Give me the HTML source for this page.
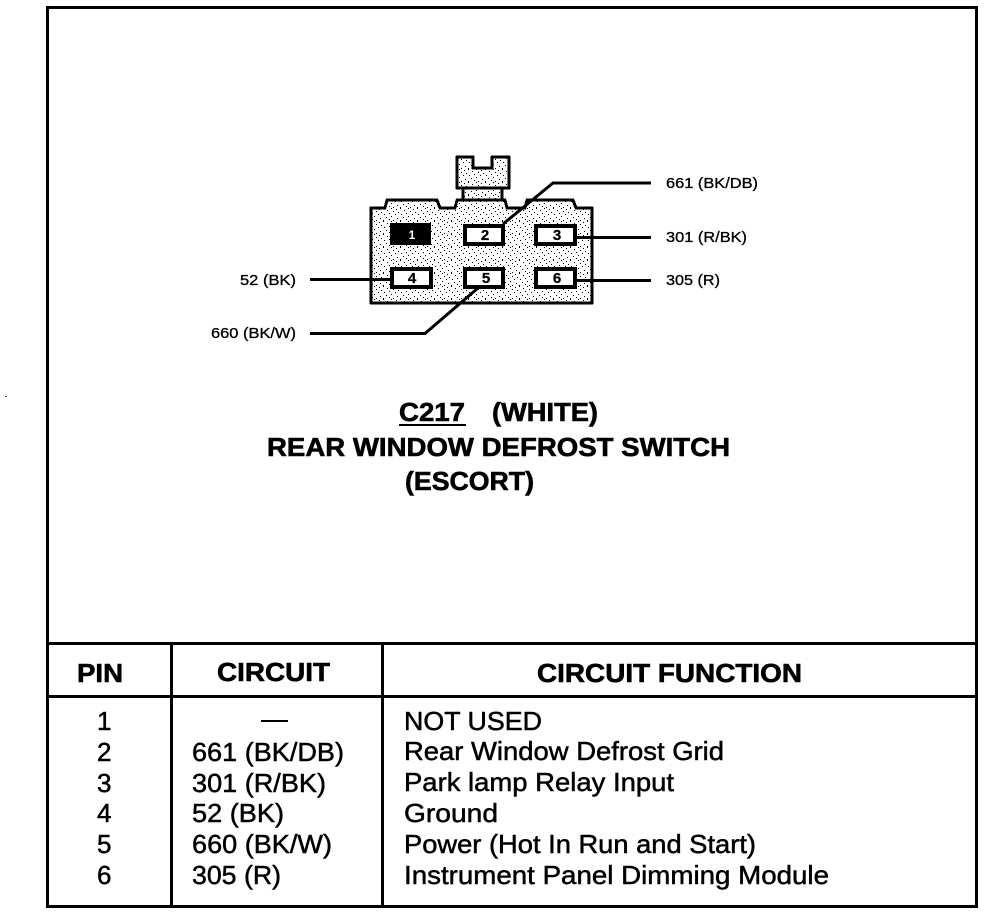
<!DOCTYPE html>
<html><head><meta charset="utf-8"><style>
html,body{margin:0;padding:0;background:#fff;width:992px;height:916px;overflow:hidden}
svg{display:block}
text{font-family:"Liberation Sans",sans-serif;fill:#000}
.t{font-size:26px;stroke:#000;stroke-width:.5px}
.h{font-size:26px;font-weight:bold;stroke:#000;stroke-width:.6px}
.s{font-size:15px;stroke:#000;stroke-width:.3px}
.p{font-size:15px;font-weight:bold;text-anchor:middle;stroke:#000;stroke-width:.3px}
</style></head><body>
<svg width="992" height="916" viewBox="0 0 992 916" xmlns="http://www.w3.org/2000/svg" shape-rendering="crispEdges">
<defs>
<pattern id="st" width="17" height="13" patternUnits="userSpaceOnUse">
<rect width="17" height="13" fill="#fff"/>
<g fill="#000">
<rect x="0" y="0" width="1" height="1"/><rect x="5" y="1" width="1" height="1"/><rect x="9" y="0" width="1" height="1"/><rect x="13" y="2" width="1" height="1"/>
<rect x="2" y="3" width="1" height="1"/><rect x="7" y="4" width="1" height="1"/><rect x="15" y="5" width="1" height="1"/>
<rect x="4" y="6" width="1" height="1"/><rect x="10" y="6" width="1" height="1"/><rect x="0" y="8" width="1" height="1"/><rect x="12" y="9" width="1" height="1"/><rect x="6" y="10" width="1" height="1"/><rect x="15" y="11" width="1" height="1"/><rect x="2" y="12" width="1" height="1"/><rect x="9" y="12" width="1" height="1"/>
</g>
</pattern>
</defs>
<rect x="47.5" y="7.5" width="929" height="899" fill="#fff" stroke="#000" stroke-width="3"/>
<rect x="5" y="396" width="2" height="1" fill="#555"/>
<g stroke="#000" stroke-width="3" fill="none">
<path d="M47 643.5H977M47 696.5H977M171.5 643V907M382.5 643V907"/>
</g>
<g stroke="#000" stroke-width="3" fill="url(#st)" stroke-linejoin="round">
<path d="M457 157H473V168H492V157H509V188H457Z"/>
<rect x="463" y="188" width="39" height="12"/>
<path d="M371 208H385L387 200H437L440 208H455L457 200H505L507 208H525L527 200H573L576 208H592V303H371Z"/>
</g>
<g stroke="#000" stroke-width="3" fill="none" shape-rendering="auto">
<path d="M503 224L553 183H651"/>
<path d="M575 237.5H651"/>
<path d="M575 280.5H651"/>
<path d="M310 279.5H391"/>
<path d="M310 333.5H425L478 288"/>
</g>
<rect x="390" y="223" width="41" height="22" fill="#000"/>
<text x="412" y="239" class="p" style="fill:#fff;stroke:none;font-size:12px">1</text>
<g fill="#fff" stroke="#000" stroke-width="4">
<rect x="465" y="226" width="38" height="18"/>
<rect x="536" y="226" width="39" height="18"/>
<rect x="392" y="269" width="39" height="18"/>
<rect x="465" y="269" width="38" height="18"/>
<rect x="536" y="269" width="39" height="18"/>
</g>
<text x="485" y="240" class="p">2</text>
<text x="557" y="240" class="p">3</text>
<text x="412" y="283" class="p">4</text>
<text x="486" y="283" class="p">5</text>
<text x="557" y="283" class="p">6</text>
<text x="666" y="188" class="s" textLength="92" lengthAdjust="spacingAndGlyphs">661 (BK/DB)</text>
<text x="666" y="242" class="s" textLength="81" lengthAdjust="spacingAndGlyphs">301 (R/BK)</text>
<text x="666" y="285" class="s" textLength="54" lengthAdjust="spacingAndGlyphs">305 (R)</text>
<text x="240" y="285" class="s" textLength="56" lengthAdjust="spacingAndGlyphs">52 (BK)</text>
<text x="211" y="338" class="s" textLength="85" lengthAdjust="spacingAndGlyphs">660 (BK/W)</text>
<text x="399" y="421" class="h" textLength="66" lengthAdjust="spacingAndGlyphs">C217</text>
<rect x="399" y="424" width="67" height="2" fill="#000"/>
<text x="492" y="421" class="h" textLength="106" lengthAdjust="spacingAndGlyphs">(WHITE)</text>
<text x="267" y="456" class="h" textLength="463" lengthAdjust="spacingAndGlyphs">REAR WINDOW DEFROST SWITCH</text>
<text x="405" y="490" class="h" textLength="129" lengthAdjust="spacingAndGlyphs">(ESCORT)</text>
<text x="77" y="682" class="h" textLength="46" lengthAdjust="spacingAndGlyphs">PIN</text>
<text x="217" y="681" class="h" textLength="113" lengthAdjust="spacingAndGlyphs">CIRCUIT</text>
<text x="537" y="682" class="h" textLength="265" lengthAdjust="spacingAndGlyphs">CIRCUIT FUNCTION</text>
<text class="t" x="97" y="730">1</text>
<text class="t" x="97" y="761">2</text>
<text class="t" x="97" y="792">3</text>
<text class="t" x="97" y="822">4</text>
<text class="t" x="97" y="853">5</text>
<text class="t" x="97" y="884">6</text>
<rect x="261" y="720" width="27" height="2" fill="#000"/>
<text class="t" x="192" y="761" textLength="152" lengthAdjust="spacingAndGlyphs">661 (BK/DB)</text>
<text class="t" x="192" y="792" textLength="134" lengthAdjust="spacingAndGlyphs">301 (R/BK)</text>
<text class="t" x="192" y="822" textLength="92" lengthAdjust="spacingAndGlyphs">52 (BK)</text>
<text class="t" x="192" y="853" textLength="140" lengthAdjust="spacingAndGlyphs">660 (BK/W)</text>
<text class="t" x="192" y="884" textLength="89" lengthAdjust="spacingAndGlyphs">305 (R)</text>
<text class="t" x="404" y="730" textLength="138" lengthAdjust="spacingAndGlyphs">NOT USED</text>
<text class="t" x="404" y="760" textLength="320" lengthAdjust="spacingAndGlyphs">Rear Window Defrost Grid</text>
<text class="t" x="404" y="791" textLength="270" lengthAdjust="spacingAndGlyphs">Park lamp Relay Input</text>
<text class="t" x="404" y="822" textLength="94" lengthAdjust="spacingAndGlyphs">Ground</text>
<text class="t" x="404" y="853" textLength="352" lengthAdjust="spacingAndGlyphs">Power (Hot In Run and Start)</text>
<text class="t" x="404" y="884" textLength="425" lengthAdjust="spacingAndGlyphs">Instrument Panel Dimming Module</text>
</svg>
</body></html>
